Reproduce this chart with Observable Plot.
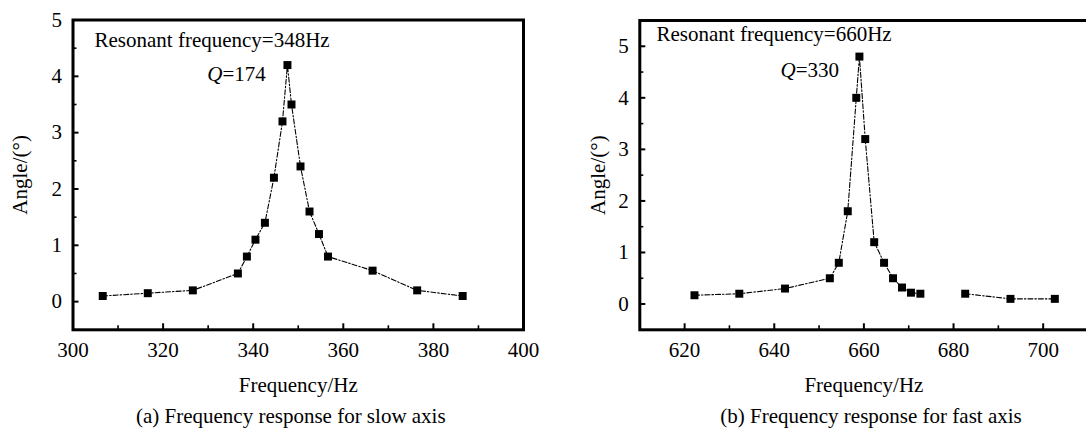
<!DOCTYPE html>
<html><head><meta charset="utf-8">
<script src="https://cdn.jsdelivr.net/npm/d3@7"></script>
<script src="https://cdn.jsdelivr.net/npm/@observablehq/plot@0.6"></script>
<style>
body{margin:0;background:#fff;}
#wrap{position:relative;width:1086px;height:430px;overflow:hidden;font-family:'Liberation Serif','Times New Roman',serif;background:#fff;}
.panel{position:absolute;top:0;}
.cap{position:absolute;top:406px;font-size:21px;line-height:21px;white-space:nowrap;transform:translateX(-50%);color:#000;}
</style></head><body><div id="wrap"></div>
<script>
// ---- data ----
const slowFreq  = [306.6, 316.6, 326.6, 336.6, 338.6, 340.5, 342.6, 344.6, 346.5, 347.6, 348.5, 350.5, 352.5, 354.6, 356.6, 366.5, 376.4, 386.5];
const slowAngle = [0.1, 0.15, 0.2, 0.5, 0.8, 1.1, 1.4, 2.2, 3.2, 4.2, 3.5, 2.4, 1.6, 1.2, 0.8, 0.55, 0.2, 0.1];
const fastFreq  = [622.2, 632.2, 642.4, 652.4, 654.4, 656.4, 658.3, 659.0, 660.3, 662.3, 664.5, 666.5, 668.5, 670.5, 672.6, 682.6, 692.7, 702.6];
const fastAngle = [0.17, 0.2, 0.3, 0.5, 0.8, 1.8, 4.0, 4.8, 3.2, 1.2, 0.8, 0.5, 0.32, 0.22, 0.2, 0.2, 0.1, 0.1];
const fastSegment = [1,1,1,1,1,1,1,1,1,1,1,1,1,1,1,2,2,2];

const slowXTicks = [300, 320, 340, 360, 380, 400];
const slowXMinor = [310, 330, 350, 370, 390];
const fastXTicks = [620, 640, 660, 680, 700];
const fastXMinor = [630, 650, 670, 690];
const slowYTicks = [0, 1, 2, 3, 4, 5];
const fastYTicks = [0, 1, 2, 3, 4, 5];
const yMinor = [0.5, 1.5, 2.5, 3.5, 4.5];

const xLabel = "Frequency/Hz";
const yLabel = "Angle/(°)";
const captions = ["(a) Frequency response for slow axis", "(b) Frequency response for fast axis"];
const resonant = ["Resonant frequency=348Hz", "Resonant frequency=660Hz"];
const qValues = ["=174", "=330"];

const FONT = "'Liberation Serif','Times New Roman',serif";

function panel(o) {
  const data = o.freq.map((f, i) => ({f, a: o.angle[i], seg: o.seg ? o.seg[i] : 1}));
  const fmt = d => String(d);
  const fw = o.width - o.ml - o.mr;   // frame width in px
  const fh = o.height - o.mt - o.mb;  // frame height in px
  const tickX = (ticks, len, sw) => Plot.ruleX(ticks, {x: d => d, insetTop: fh - len, stroke: "#000", strokeWidth: sw});
  const tickY = (ticks, len, sw) => Plot.ruleY(ticks, {y: d => d, insetRight: fw - len, stroke: "#000", strokeWidth: sw});
  return Plot.plot({
    width: o.width, height: o.height,
    marginLeft: o.ml, marginRight: o.mr, marginTop: o.mt, marginBottom: o.mb,
    style: {fontFamily: FONT, fontSize: "21px", color: "#000", background: "#fff", overflow: "visible"},
    x: {domain: o.xDomain},
    y: {domain: o.yDomain},
    marks: [
      Plot.axisX(o.xTicks, {tickSize: 0, tickPadding: 12.5, tickFormat: fmt, fontFamily: FONT, fontVariant: "normal", label: xLabel, labelAnchor: "center", labelOffset: 62.4, labelArrow: "none"}),
      Plot.axisY(o.yTicks, {tickSize: 0, tickPadding: 11, tickFormat: fmt, fontFamily: FONT, fontVariant: "normal", label: yLabel, labelAnchor: "center", labelOffset: o.ylo, labelArrow: "none"}),
      tickX(o.xTicks, 6, 2),
      tickX(o.xMinor, 4, 1.6),
      tickY(o.yTicks, 6, 2),
      tickY(yMinor, 4, 1.6),
      Plot.frame({stroke: "#000", strokeWidth: 3}),
      Plot.line(data, {x: "f", y: "a", z: "seg", stroke: "#000", strokeWidth: 1.1, strokeDasharray: "5,2,1.5,2"}),
      Plot.dot(data, {x: "f", y: "a", symbol: "square", r: 4.5, fill: "#000", stroke: null}),
      Plot.text([o.res], {text: d => d, frameAnchor: "top-left", dx: o.resDx, dy: o.resDy, textAnchor: "start", lineAnchor: "bottom", fill: "#000", fontFamily: FONT}),
      Plot.text(["Q"], {text: d => d, frameAnchor: "top-left", dx: o.qDx, dy: o.qDy, textAnchor: "start", lineAnchor: "bottom", fontStyle: "italic", fill: "#000", fontFamily: FONT}),
      Plot.text([o.q], {text: d => d, frameAnchor: "top-left", dx: o.qDx + 15.2, dy: o.qDy, textAnchor: "start", lineAnchor: "bottom", fill: "#000", fontFamily: FONT})
    ]
  });
}

const wrap = document.getElementById("wrap");

const a = panel({
  freq: slowFreq, angle: slowAngle,
  width: 545, height: 400, ml: 72.5, mr: 22, mt: 19.5, mb: 70.7,
  xDomain: [300, 400], yDomain: [-0.5, 5],
  xTicks: slowXTicks, xMinor: slowXMinor, yTicks: slowYTicks, ylo: 60.5,
  res: resonant[0], resDx: 21.5, resDy: 27.2,
  q: qValues[0], qDx: 134.2, qDy: 61.2
});
a.classList.add("panel"); a.style.left = "0px";
wrap.appendChild(a);

const b = panel({
  freq: fastFreq, angle: fastAngle, seg: fastSegment,
  width: 541, height: 400, ml: 94.3, mr: -1.5, mt: 20, mb: 70.7,
  xDomain: [610, 710], yDomain: [-0.5, 5.5],
  xTicks: fastXTicks, xMinor: fastXMinor, yTicks: fastYTicks, ylo: 49.3,
  res: resonant[1], resDx: 16.7, resDy: 20,
  q: qValues[1], qDx: 140.7, qDy: 56
});
b.classList.add("panel"); b.style.left = "545px";
wrap.appendChild(b);

[[captions[0], 290.8], [captions[1], 871]].forEach(([t, cx]) => {
  const d = document.createElement("div");
  d.className = "cap"; d.textContent = t; d.style.left = cx + "px";
  wrap.appendChild(d);
});
</script></body></html>
